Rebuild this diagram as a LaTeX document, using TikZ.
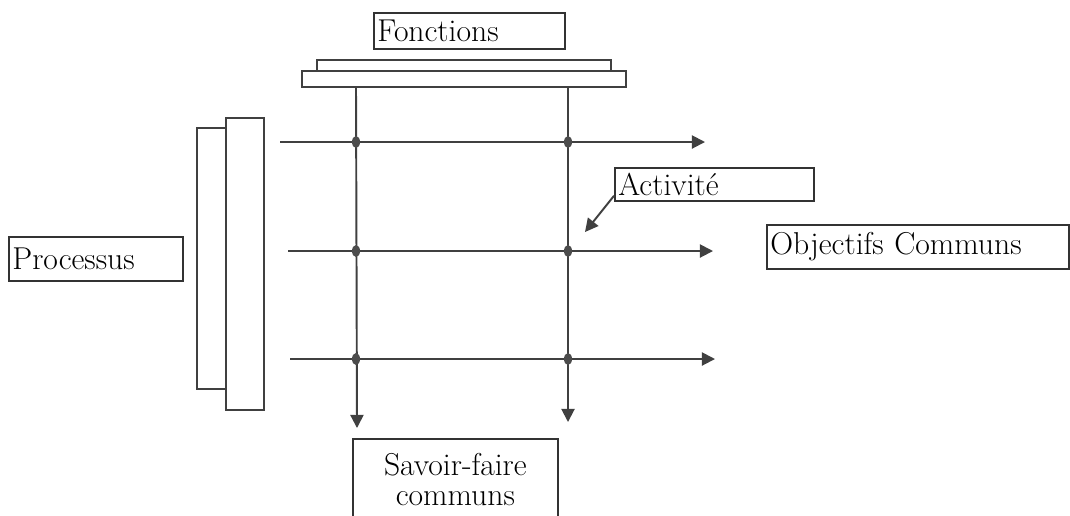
\documentclass[tikz,border=0pt]{standalone}
\usetikzlibrary{arrows.meta}

\tikzset{
  trait/.style={draw=black!75, line width=1.1pt},
  fleche/.style={trait, -{Triangle[length=7.5pt,width=7.5pt]}},
  boite/.style={draw=black!80, line width=1pt, anchor=north west, inner sep=2pt, align=left, font=\fontsize{18}{17}\selectfont},
  point/.style={fill=black!70}
}

\begin{document}
\begin{tikzpicture}[x=0.02cm,y=-0.02cm]
\useasboundingbox (0,0) rectangle (1070,515);

% boites de texte
\node[boite, text width=3.68cm, minimum height=0.72cm] (fonctions) at (373,12) {Fonctions};
\node[boite, text width=3.34cm, minimum height=0.88cm] (processus) at (8,236) {Processus};
\node[boite, text width=5.9cm, minimum height=0.88cm] (objectifs) at (766,224) {Objectifs Communs};
\node[boite, text width=3.84cm, minimum height=0.66cm] (activite) at (614,167) {Activité};
\node[boite, text width=3.96cm, minimum height=1.62cm, align=center] (savoir) at (352,438) {Savoir-faire\\ communs};

% barres
\draw[trait] (317,60) rectangle (611,71);
\draw[trait] (302,71) rectangle (626,87);
\draw[trait] (197,128) rectangle (229,389);
\draw[trait, fill=white] (226,118) rectangle (264,410);

% fonctions (verticales)
\coordinate (h1) at (356,87);
\coordinate (h2) at (568,87);
\coordinate (b1) at (357,428);
\coordinate (b2) at (568,422);
\draw[fleche] (h1) -- (b1);
\draw[fleche] (h2) -- (b2);

% processus (horizontales)
\foreach \y/\xa/\xb [count=\i] in {142/280/705, 251/288/713, 359/290/715} {
  \coordinate (p\i) at (\xa,\y);
  \coordinate (o\i) at (\xb,\y);
  \draw[fleche] (p\i) -- (o\i);
  \fill[point] (356,\y) ellipse (4 and 6);
  \fill[point] (568,\y) ellipse (4 and 6);
}

\coordinate (cible) at (585,232);
\draw[fleche] ([yshift=0.12cm]activite.south west) -- (cible);

\end{tikzpicture}
\end{document}
